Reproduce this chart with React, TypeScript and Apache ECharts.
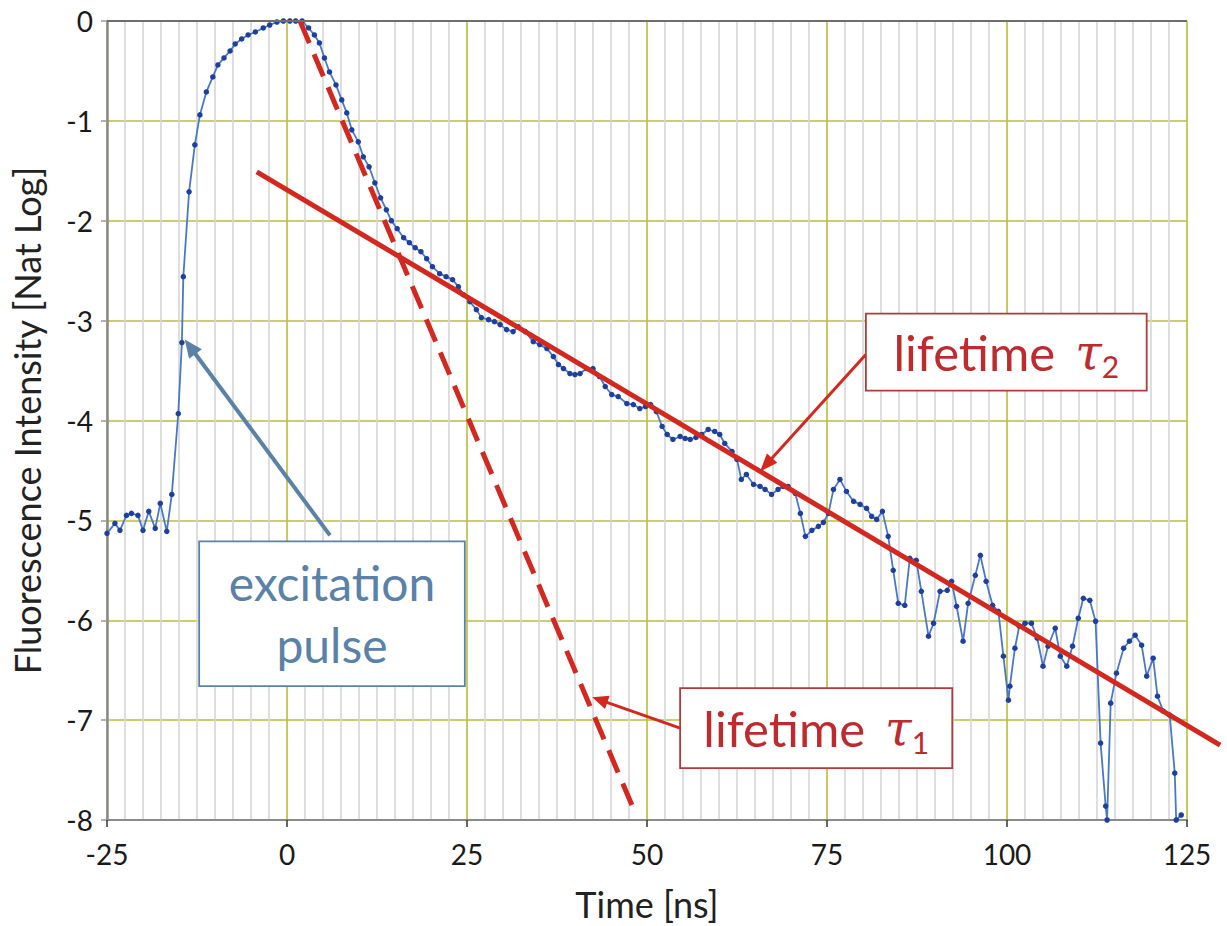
import React, { useEffect, useRef } from "react";
import * as echarts from "echarts";

// Measured fluorescence decay (time in ns, natural log of intensity)
const timeNs = [
  -25.0, -23.9, -23.2, -22.3, -21.6, -20.7, -20.0, -19.2, -18.3, -17.6, -16.7, -16.0,
  -15.1, -14.6, -14.4, -13.6, -12.8, -12.1, -11.2, -10.3, -9.6, -8.75, -7.9, -7.2,
  -6.3, -5.4, -4.4, -3.3, -2.4, -1.4, -0.5, 0.4, 1.2, 2.1,
  3.0, 3.8, 4.5, 5.2, 5.9, 6.8, 7.6, 8.3, 9.0, 9.9, 10.6, 11.4, 12.2, 13.0, 13.8, 14.5,
  15.3, 16.2, 17.0, 17.8, 18.6, 19.4, 20.2, 21.2, 22.1, 23.0, 23.8, 24.5, 25.4, 26.3,
  27.0, 28.0, 28.8, 29.6, 30.5, 31.4, 32.1, 33.1, 34.2, 35.1, 36.1, 37.0, 37.7, 38.4,
  39.3, 40.0, 40.7, 41.6, 42.5, 43.4, 44.2, 45.1, 46.0, 47.2, 48.1, 49.0, 49.8, 50.5,
  51.3, 52.1, 52.8, 53.6, 54.6, 55.3, 56.0, 56.8, 57.6, 58.5, 59.4, 60.1, 60.8, 61.8,
  62.5, 63.1, 63.8, 64.8, 65.7, 66.4, 67.3, 68.2, 68.9, 69.6, 70.6, 71.3, 72.0, 72.9,
  73.8, 74.5, 75.2, 75.9, 76.8, 77.7, 78.7, 79.6, 80.5, 81.2, 81.9, 82.7, 83.5, 84.2,
  84.9, 85.8, 86.5, 87.4, 88.1, 89.1, 89.8, 90.7, 91.7, 92.3, 93.0, 93.9, 94.6, 95.6,
  96.3, 97.1, 98.0, 98.8, 99.5, 100.2, 100.4, 101.1, 101.7, 102.5, 103.4, 104.2, 105.0,
  105.7, 106.7, 107.4, 108.3, 109.1, 109.9, 110.6, 111.5, 112.3, 113.0, 113.7, 113.9,
  114.4, 115.2, 116.2, 117.0, 117.8, 118.7, 119.4, 120.3, 120.9, 121.7, 122.6, 123.3,
  123.5, 124.2,
];
const logIntensity = [
  -5.13, -5.03, -5.1, -4.95, -4.93, -4.95, -5.1, -4.91, -5.08, -4.83, -5.11, -4.74,
  -3.93, -3.22, -2.56, -1.71, -1.24, -0.94, -0.71, -0.56, -0.44, -0.37, -0.3, -0.23,
  -0.18, -0.14, -0.11, -0.07, -0.04, -0.01, 0, 0, 0, 0,
  -0.07, -0.14, -0.22, -0.37, -0.51, -0.64, -0.79, -0.92, -1.09, -1.21, -1.36, -1.46,
  -1.62, -1.77, -1.89, -2.0, -2.08, -2.17, -2.22, -2.27, -2.31, -2.38, -2.46, -2.53,
  -2.56, -2.59, -2.66, -2.74, -2.81, -2.89, -2.97, -2.99, -3.01, -3.04, -3.09, -3.11,
  -3.06, -3.11, -3.21, -3.24, -3.28, -3.36, -3.44, -3.48, -3.53, -3.54, -3.53, -3.48,
  -3.48, -3.56, -3.66, -3.74, -3.76, -3.83, -3.84, -3.88, -3.86, -3.84, -3.91, -4.06,
  -4.14, -4.19, -4.16, -4.18, -4.19, -4.17, -4.14, -4.09, -4.11, -4.14, -4.23, -4.31,
  -4.39, -4.59, -4.54, -4.64, -4.66, -4.69, -4.74, -4.69, -4.66, -4.66, -4.73, -4.93,
  -5.16, -5.1, -5.06, -5.02, -4.93, -4.69, -4.59, -4.71, -4.81, -4.84, -4.88, -4.96,
  -4.99, -4.91, -5.16, -5.5, -5.83, -5.85, -5.38, -5.4, -5.71, -6.16, -6.03, -5.71,
  -5.7, -5.61, -5.86, -6.21, -5.83, -5.55, -5.35, -5.61, -5.85, -5.91, -6.36, -6.8,
  -6.66, -6.28, -6.06, -6.03, -6.03, -6.18, -6.46, -6.26, -6.08, -6.36, -6.46, -6.26,
  -5.98, -5.78, -5.8, -6.01, -7.23, -7.86, -8.0, -6.83, -6.53, -6.28, -6.21, -6.15,
  -6.25, -6.56, -6.38, -6.76, -6.91, -6.95, -7.53, -8.0, -7.95,
];

// Exponential fits (straight lines on the log scale)
const tau1Time = [1.8, 47.9];
const tau1Value = [0, -7.85];
const tau2Time = [-4.2, 129.6];
const tau2Value = [-1.51, -7.25];

const xMin = -25;
const xMax = 125;
const xStep = 25;
const yMin = -8;
const yMax = 0;
const yStep = 1;

const FONT = "Lato";
const RED = "#d2281f";
const RED_TEXT = "#be2a2e";
const BLUE_NOTE = "#5a82a8";

function arrow(
  p1: number[],
  p2: number[],
  color: string,
  width: number,
  headLen: number,
  headW: number
) {
  const [x1, y1] = p1;
  const [x2, y2] = p2;
  const dx = x2 - x1;
  const dy = y2 - y1;
  const L = Math.hypot(dx, dy);
  const ux = dx / L;
  const uy = dy / L;
  const bx = x2 - ux * headLen;
  const by = y2 - uy * headLen;
  const nx = -uy;
  const ny = ux;
  return [
    {
      type: "line",
      z: 100,
      shape: { x1, y1, x2: bx + ux * 2, y2: by + uy * 2 },
      style: { stroke: color, lineWidth: width },
    },
    {
      type: "polygon",
      z: 100,
      shape: {
        points: [
          [x2, y2],
          [bx + nx * headW, by + ny * headW],
          [bx - nx * headW, by - ny * headW],
        ],
      },
      style: { fill: color },
    },
  ];
}

export default function App() {
  const ref = useRef<HTMLDivElement>(null);

  useEffect(() => {
    if (!ref.current) return;
    const chart = echarts.init(ref.current, undefined, { renderer: "svg" });

    const measured = timeNs.map((t, i) => [t, logIntensity[i]]);
    const fit1 = tau1Time.map((t, i) => [t, tau1Value[i]]);

    const option: any = {
      animation: false,
      backgroundColor: "#ffffff",
      grid: {
        left: 107,
        top: 21,
        width: 1080,
        height: 799,
        containLabel: false,
        outerBoundsMode: "none",
      },
      xAxis: {
        type: "value",
        min: xMin,
        max: xMax,
        interval: xStep,
        name: "Time [ns]",
        nameLocation: "middle",
        nameGap: 66,
        nameTextStyle: { fontSize: 36, fontFamily: FONT, color: "#222" },
        axisLine: { show: true, onZero: false, lineStyle: { color: "#8a8a8a", width: 2 } },
        axisTick: { show: true, length: 7, lineStyle: { color: "#333", width: 1.5 } },
        axisLabel: { fontSize: 28, fontFamily: FONT, color: "#1a1a1a", margin: 20 },
        splitLine: { show: true, lineStyle: { color: "#bcbc3c", width: 1.6 } },
        minorTick: { show: false, splitNumber: 10 },
        minorSplitLine: { show: true, lineStyle: { color: "#d6d6d6", width: 1.6 } },
      },
      yAxis: {
        type: "value",
        min: yMin,
        max: yMax,
        interval: yStep,
        name: "Fluorescence Intensity [Nat Log]",
        nameLocation: "middle",
        nameGap: 62,
        nameRotate: 90,
        nameTextStyle: { fontSize: 36, fontFamily: FONT, color: "#222" },
        axisLine: { show: true, onZero: false, lineStyle: { color: "#8a8a8a", width: 2.5 } },
        axisTick: { show: true, length: 6, lineStyle: { color: "#999", width: 1.5 } },
        axisLabel: { fontSize: 28, fontFamily: FONT, color: "#1a1a1a", margin: 14 },
        splitLine: { show: true, lineStyle: { color: "#bcbc3c", width: 1.6 } },
      },
      series: [
        {
          type: "line",
          data: measured,
          symbol: "circle",
          symbolSize: 5.5,
          showSymbol: true,
          lineStyle: { color: "#4a78c8", width: 1.8 },
          itemStyle: { color: "#1d3f9e" },
          z: 3,
        },
        {
          type: "line",
          data: fit1,
          symbol: "none",
          lineStyle: { color: RED, width: 5, type: [24, 12] },
          z: 4,
        },
      ],
    };
    chart.setOption(option);

    const px = (t: number, v: number) =>
      chart.convertToPixel({ gridIndex: 0 }, [t, v]) as number[];

    const box = (t0: number, v0: number, t1: number, v1: number, stroke: string) => {
      const [x0, y0] = px(t0, v0);
      const [x1, y1] = px(t1, v1);
      return {
        type: "rect",
        z: 101,
        shape: { x: x0, y: y0, width: x1 - x0, height: y1 - y0 },
        style: { fill: "#ffffff", stroke, lineWidth: 1.8 },
      };
    };

    const tauLabel = (cx: number, cy: number, sub: string) => ({
      type: "text",
      z: 102,
      x: cx,
      y: cy,
      style: {
        text: `{a|lifetime}{sp| }{b|τ}{c|${sub}}`,
        align: "center",
        verticalAlign: "middle",
        fill: RED_TEXT,
        rich: {
          a: { fontSize: 49, fontFamily: FONT, fill: RED_TEXT },
          sp: { fontSize: 46, fontFamily: FONT, width: 20 },
          b: {
            fontSize: 48,
            fontFamily: "DejaVu Serif",
            fontStyle: "italic",
            fill: RED_TEXT,
          },
          c: {
            fontSize: 30,
            fontFamily: FONT,
            fill: RED_TEXT,
            padding: [28, 0, 0, 0],
          },
        },
      },
    });

    const topL = px(xMin, yMax);
    const topR = px(xMax, yMax);
    const fit2 = tau2Time.map((t, i) => px(t, tau2Value[i]));

    const c2 = px(99.9, -3.315);
    const c1 = px(73.5, -7.08);
    const ce = px(6.25, -5.935);

    const graphic: any[] = [
      {
        type: "line",
        z: 50,
        shape: { x1: topL[0], y1: topL[1], x2: topR[0], y2: topR[1] },
        style: { stroke: "#6e6e6e", lineWidth: 2 },
      },
      // tau2 fit line (extends slightly past the plot edge)
      {
        type: "polyline",
        z: 60,
        shape: { points: fit2 },
        style: { stroke: RED, lineWidth: 5, fill: null },
      },
      // excitation pulse note
      ...arrow(px(5.97, -5.15), px(-14.2, -3.19), BLUE_NOTE, 4, 18, 8),
      box(-12.2, -5.21, 24.7, -6.66, BLUE_NOTE),
      {
        type: "text",
        z: 102,
        x: ce[0],
        y: ce[1],
        style: {
          text: "excitation\npulse",
          align: "center",
          verticalAlign: "middle",
          fontSize: 48,
          lineHeight: 62,
          fontFamily: FONT,
          fill: BLUE_NOTE,
        },
      },
      // lifetime tau2 note
      ...arrow(px(80.4, -3.34), px(65.7, -4.51), RED, 3, 18, 7),
      box(80.4, -2.93, 119.4, -3.7, "#b33a3a"),
      tauLabel(c2[0], c2[1], "2"),
      // lifetime tau1 note
      ...arrow(px(54.6, -7.08), px(42.4, -6.77), RED, 3, 16, 7),
      box(54.6, -6.68, 92.4, -7.48, "#b33a3a"),
      tauLabel(c1[0], c1[1], "1"),
    ];
    chart.setOption({ graphic });

    return () => chart.dispose();
  }, []);

  return (
    <div
      ref={ref}
      style={{ position: "absolute", left: 0, top: 0, width: 1227, height: 926 }}
    />
  );
}
